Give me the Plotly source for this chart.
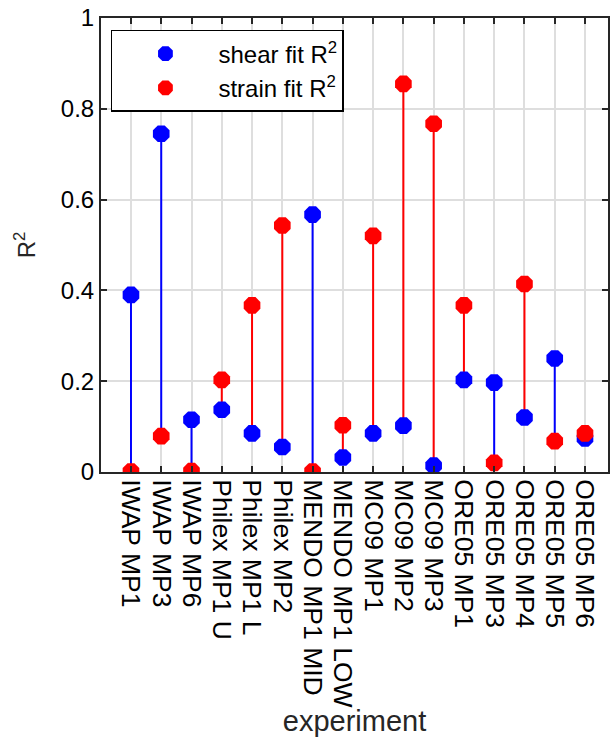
import plotly.graph_objects as go

experiments = ["IWAP MP1", "IWAP MP3", "IWAP MP6", "Philex MP1 U", "Philex MP1 L",
               "Philex MP2", "MENDO MP1 MID", "MENDO MP1 LOW", "MC09 MP1", "MC09 MP2",
               "MC09 MP3", "ORE05 MP1", "ORE05 MP3", "ORE05 MP4", "ORE05 MP5", "ORE05 MP6"]
shear_r2 = [0.390, 0.745, 0.115, 0.137, 0.085, 0.055, 0.567, 0.032,
            0.085, 0.102, 0.014, 0.203, 0.197, 0.120, 0.250, 0.074]
strain_r2 = [0.001, 0.079, 0.002, 0.203, 0.367, 0.543, 0.001, 0.103,
             0.520, 0.855, 0.767, 0.367, 0.020, 0.414, 0.068, 0.085]
y_ticks = [0, 0.2, 0.4, 0.6, 0.8, 1]
y_tick_labels = ["0", "0.2", "0.4", "0.6", "0.8", "1"]

BLUE = "#0000ff"
RED = "#ff0000"
FONT = "Liberation Sans, Arial, Helvetica, sans-serif"
AX = "#262626"

xs = list(range(len(experiments)))
bx, by, rx, ry = [], [], [], []
for i, (s, t) in enumerate(zip(shear_r2, strain_r2)):
    lo, hi = min(s, t), max(s, t)
    if s >= t:
        bx += [i, i, None]; by += [lo, hi, None]
    else:
        rx += [i, i, None]; ry += [lo, hi, None]

fig = go.Figure()
fig.add_trace(go.Scatter(x=bx, y=by, mode="lines", line=dict(color=BLUE, width=2),
                         showlegend=False, hoverinfo="skip"))
fig.add_trace(go.Scatter(x=rx, y=ry, mode="lines", line=dict(color=RED, width=2),
                         showlegend=False, hoverinfo="skip"))
fig.add_trace(go.Scatter(x=xs, y=shear_r2, mode="markers", name="shear fit R<sup>2</sup>",
                         marker=dict(symbol="octagon", size=18, color=BLUE, line=dict(width=0))))
fig.add_trace(go.Scatter(x=xs, y=strain_r2, mode="markers", name="strain fit R<sup>2</sup>",
                         marker=dict(symbol="octagon", size=18, color=RED, line=dict(width=0))))

fig.update_layout(
    width=610, height=737,
    margin=dict(l=101, r=0, t=18, b=265),
    paper_bgcolor="white", plot_bgcolor="white",
    font=dict(family=FONT, size=24, color="#000000"),
    legend=dict(x=0.0196, y=0.9736, xanchor="left", yanchor="top",
                bgcolor="white", bordercolor="#000000", borderwidth=1.5,
                itemwidth=96, font=dict(size=24, family=FONT, color="#000000"),
                tracegroupgap=0),
    xaxis=dict(range=[-0.99, 15.76], tickmode="array", tickvals=xs, ticktext=experiments,
               tickangle=90, ticks="inside", ticklen=6, tickwidth=1.5, tickcolor=AX,
               showline=True, linecolor=AX, linewidth=2, mirror="ticks",
               showgrid=True, gridcolor="#dedede", gridwidth=1.5, zeroline=False,
               tickfont=dict(size=26.5, family=FONT, color="#000000"),
               title=dict(text="experiment", font=dict(size=29, family=FONT, color=AX), standoff=2)),
    yaxis=dict(range=[0, 1], tickmode="array", tickvals=y_ticks, ticktext=y_tick_labels,
               ticks="inside", ticklen=6, tickwidth=1.5, tickcolor=AX,
               showline=True, linecolor=AX, linewidth=2, mirror="ticks",
               showgrid=True, gridcolor="#dedede", gridwidth=1.5, zeroline=False,
               tickfont=dict(size=24, family=FONT, color="#000000"),
               title=dict(text="R<sup>2</sup>", font=dict(size=24, family=FONT, color=AX), standoff=18)),
)

fig.write_html("out.html")
